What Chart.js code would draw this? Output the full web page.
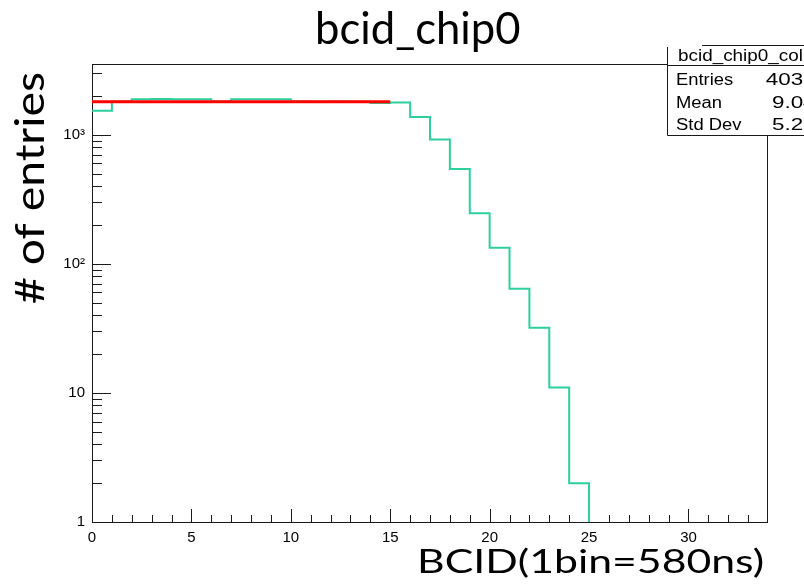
<!DOCTYPE html>
<html>
<head>
<meta charset="utf-8">
<script src="https://cdn.jsdelivr.net/npm/chart.js@4/dist/chart.umd.min.js"></script>
<style>
  html, body { margin: 0; padding: 0; background: #ffffff; }
  #wrap { width: 804px; height: 584px; }
</style>
</head>
<body>
<div id="wrap"><canvas id="c" width="804" height="584"></canvas></div>
<script>
// BCID histogram of chip 0, one count per 1-wide bin (lower edges below)
const binLowEdges = [0, 1, 2, 3, 4, 5, 6, 7, 8, 9, 10, 11, 12, 13, 14, 15, 16, 17, 18, 19, 20, 21, 22, 23, 24];
const binCounts   = [1532, 1805, 1882, 1887, 1884, 1886, 1805, 1885, 1883, 1886, 1806, 1804, 1805, 1803, 1758, 1776, 1370, 920, 543, 246, 133, 64, 32, 11, 2];
const binWidth = 1;

// flat fit over the plateau
const fitRange = [0, 15];
const fitLevel = 1804;

// axes
const xRange = [0, 34];
const yRange = [1, 3530];
const xTickValues = [0, 5, 10, 15, 20, 25, 30];
const yTickValues = [1, 10, 100, 1000];
const yTickLabels = ['1', '10', '10\u00B2', '10\u00B3'];

// texts
const titleText = 'bcid_chip0';
const xTitleText = 'BCID(1bin=580ns)';
const yTitleText = '# of entries';
const statsTitle = 'bcid_chip0_col1';
const statsLabels = ['Entries', 'Mean', 'Std Dev'];
const statsValues = ['40331', '9.043', '5.217'];

const HIST_COLOR = '#2bd09e';
const FIT_COLOR = '#ff0000';
const FRAME_COLOR = '#1a1a1a';
const TICK_FONT = '"Liberation Sans", Arial, sans-serif';
const BIG_FONT = 'Lato, "Open Sans", sans-serif';

// outline points of the histogram (step drawn by the line controller)
const histPoints = binLowEdges.map((e, i) => ({ x: e, y: binCounts[i] }));
histPoints.push({ x: binLowEdges[binLowEdges.length - 1] + binWidth, y: yRange[0] });

const fitPoints = [{ x: fitRange[0], y: fitLevel }, { x: fitRange[1], y: fitLevel }];

// draw a string whose ink fits a given ascent and width
function drawFitted(ctx, text, refGlyph, ascent, width, opts) {
  ctx.save();
  let size = 40;
  ctx.font = size + 'px ' + BIG_FONT;
  const r = ctx.measureText(refGlyph);
  size = size * ascent / r.actualBoundingBoxAscent;
  ctx.font = size + 'px ' + BIG_FONT;
  const m = ctx.measureText(text);
  const inkW = m.actualBoundingBoxLeft + m.actualBoundingBoxRight;
  const sx = width / inkW;
  ctx.translate(opts.x, opts.y);
  if (opts.rotate) ctx.rotate(opts.rotate);
  ctx.scale(sx, 1);
  ctx.fillStyle = '#000';
  ctx.textAlign = 'left';
  ctx.textBaseline = 'alphabetic';
  ctx.fillText(text, m.actualBoundingBoxLeft, 0);
  ctx.restore();
}

// frame and inward tick marks, placed through the chart's own scales
const framePlugin = {
  id: 'frameTicks',
  beforeDatasetsDraw(chart) {
    const { ctx, chartArea: a, scales } = chart;
    const xs = scales.x, ys = scales.y;
    ctx.save();
    ctx.strokeStyle = FRAME_COLOR;
    ctx.lineWidth = 1;
    ctx.strokeRect(a.left + 0.5, a.top + 0.5, a.right - a.left - 1, a.bottom - a.top);
    ctx.beginPath();
    for (let v = xRange[0] + 1; v < xRange[1]; v++) {
      const px = Math.round(xs.getPixelForValue(v)) + 0.5;
      const len = (v % 5 === 0) ? 13 : 7;
      ctx.moveTo(px, a.bottom);
      ctx.lineTo(px, a.bottom - len);
    }
    for (let d = 1; d <= yRange[1]; d *= 10) {
      for (let k = 1; k <= 9; k++) {
        const v = d * k;
        if (v <= yRange[0] || v > yRange[1]) continue;
        const py = Math.round(ys.getPixelForValue(v)) + 0.5;
        const len = (k === 1) ? 19 : 10;
        ctx.moveTo(a.left, py);
        ctx.lineTo(a.left + len, py);
      }
    }
    ctx.stroke();
    ctx.restore();
  },
  afterDraw(chart) {
    const ctx = chart.ctx;
    // titles
    drawFitted(ctx, titleText, 'b', 33, 202, { x: 318, y: 43.5 });
    drawFitted(ctx, xTitleText, 'B', 24, 342, { x: 421, y: 572.5 });
    drawFitted(ctx, yTitleText, '#', 30, 230, { x: 43.5, y: 303, rotate: -Math.PI / 2 });

    // statistics box
    ctx.save();
    ctx.fillStyle = '#fff';
    ctx.fillRect(667, 45, 140, 90);
    ctx.strokeStyle = FRAME_COLOR;
    ctx.lineWidth = 1;
    ctx.beginPath();
    ctx.moveTo(702, 45.5); ctx.lineTo(804, 45.5);
    ctx.moveTo(667.5, 47); ctx.lineTo(667.5, 135.5); ctx.lineTo(804, 135.5);
    ctx.moveTo(667.5, 65.5); ctx.lineTo(804, 65.5);
    ctx.stroke();
    ctx.fillStyle = '#000';
    ctx.font = '16px ' + TICK_FONT;
    ctx.textBaseline = 'alphabetic';
    const put = (t, x, y, align, sx) => {
      ctx.save();
      ctx.translate(x, y);
      ctx.scale(sx, 1);
      ctx.textAlign = align;
      ctx.fillText(t, 0, 0);
      ctx.restore();
    };
    put(statsTitle, 678, 61, 'left', 1.18);
    const rowY = [84.5, 108, 130];
    statsLabels.forEach((lab, i) => {
      put(lab, 676, rowY[i], 'left', 1.15);
      put(statsValues[i], 828, rowY[i], 'right', 1.4);
    });
    ctx.restore();
  }
};

new Chart(document.getElementById('c').getContext('2d'), {
  type: 'line',
  data: {
    datasets: [
      { label: 'fit', data: fitPoints, borderColor: FIT_COLOR, borderWidth: 3,
        pointRadius: 0, fill: false, order: 0, clip: 0 },
      { label: 'bcid_chip0', data: histPoints, stepped: true, borderColor: HIST_COLOR,
        borderWidth: 2, pointRadius: 0, fill: false, order: 1, clip: 0 }
    ]
  },
  options: {
    responsive: false,
    animation: false,
    devicePixelRatio: 1,
    layout: { padding: { top: 64, right: 36, left: 0, bottom: 0 } },
    plugins: { legend: { display: false }, tooltip: { enabled: false }, title: { display: false } },
    scales: {
      x: {
        type: 'linear', min: xRange[0], max: xRange[1],
        grid: { display: false, drawTicks: false },
        border: { display: false },
        ticks: { font: { family: TICK_FONT, size: 15 }, color: '#000', padding: 7,
                 maxRotation: 0, autoSkip: false },
        afterBuildTicks: s => { s.ticks = xTickValues.map(v => ({ value: v })); },
        afterFit: s => { s.height = 62; }
      },
      y: {
        type: 'logarithmic', min: yRange[0], max: yRange[1],
        grid: { display: false, drawTicks: false },
        border: { display: false },
        ticks: { font: { family: TICK_FONT, size: 15 }, color: '#000', padding: 7, autoSkip: false,
                 callback: v => { const i = yTickValues.indexOf(v); return i >= 0 ? yTickLabels[i] : ''; } },
        afterBuildTicks: s => { s.ticks = yTickValues.map(v => ({ value: v })); },
        afterFit: s => { s.width = 92; }
      }
    }
  },
  plugins: [framePlugin]
});
</script>
</body>
</html>
